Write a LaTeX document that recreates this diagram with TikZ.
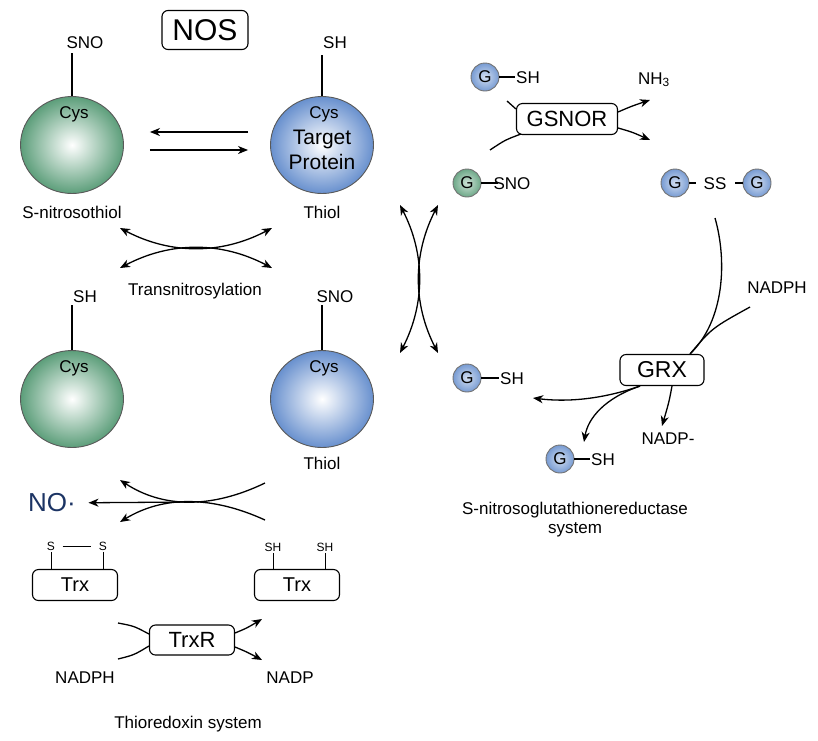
\documentclass[tikz,border=0pt]{standalone}
\usepackage{fontspec}
\setmainfont{Liberation Sans}
\usetikzlibrary{arrows.meta,shapes.geometric}
\definecolor{protgreen}{RGB}{92,158,122}
\definecolor{protblue}{RGB}{104,144,206}
\definecolor{noblue}{RGB}{28,52,100}

\begin{document}
\begin{tikzpicture}[x=1pt, y=-1pt, line width=1.3pt, >={Stealth[length=10pt,width=8pt,inset=3pt]},
    txt/.style={inner sep=1pt, font=\fontsize{17}{20}\selectfont, text height=12.2pt, text depth=0pt},
    tiny/.style={inner sep=1pt, font=\fontsize{12}{14}\selectfont, text height=8.6pt, text depth=0pt},
    protball/.style={ellipse, draw=black!65, line width=0.9pt, minimum width=103pt, minimum height=97pt, inner color=white},
    greenball/.style={protball, outer color=protgreen},
    blueball/.style={protball, outer color=protblue},
    gball/.style={circle, draw=black!55, line width=0.9pt, minimum size=28pt, inner sep=0pt, inner color=protblue!30, outer color=protblue!90, font=\fontsize{17}{20}\selectfont},
    gballgreen/.style={gball, inner color=protgreen!30, outer color=protgreen!90},
    enzyme/.style={draw, rounded corners=6pt, line width=1.1pt, inner sep=0pt}]

    \useasboundingbox (0,0) rectangle (818,740);

    % Define the enzyme box at the top
    \node[enzyme, font=\fontsize{30}{34}\selectfont, minimum width=86pt, minimum height=39pt] (nos) at (205,30) {NOS};

    % Define the protein spheres (left and right column)
    \node[greenball] (snoA) at (72,145) {};
    \node[blueball] (thiolA) at (322,145) {};
    \node[greenball] (shB) at (72,399) {};
    \node[blueball] (thiolB) at (322,399) {};

    % Define the labels on and around the spheres
    \node[txt] (cysA) at (74,112) {Cys};
    \node[txt] (cysB) at (324,112) {Cys};
    \node[txt, font=\fontsize{21}{25}\selectfont, text height=15pt] (target) at (322,137) {Target};
    \node[txt, font=\fontsize{21}{25}\selectfont, text height=15pt] (protein) at (322,162) {Protein};
    \node[txt] (cysC) at (74,366) {Cys};
    \node[txt] (cysD) at (324,366) {Cys};
    \node[txt] (snoTop) at (85,42) {SNO};
    \node[txt] (shTop) at (335,42) {SH};
    \node[txt] (shLow) at (85,296) {SH};
    \node[txt] (snoLow) at (335,296) {SNO};
    \node[txt] (nitroso) at (72,212) {S-nitrosothiol};
    \node[txt] (thiolTxtA) at (322,212) {Thiol};
    \node[txt] (transn) at (195,289) {Transnitrosylation};
    \node[txt] (thiolTxtB) at (322,463) {Thiol};

    % Draw the sticks from the spheres
    \coordinate (stickA) at (72,53);
    \coordinate (stickB) at (322,55);
    \coordinate (stickC) at (72,305);
    \coordinate (stickD) at (322,305);
    \draw (snoA.north) -- (stickA);
    \draw (thiolA.north) -- (stickB);
    \draw (shB.north) -- (stickC);
    \draw (thiolB.north) -- (stickD);

    % Draw the equilibrium arrows
    \draw[->, shorten >=26pt, shorten <=22pt] ([yshift=13pt]thiolA.west) -- ([yshift=13pt]snoA.east);
    \draw[->, shorten >=22pt, shorten <=26pt] ([yshift=-5pt]snoA.east) -- ([yshift=-5pt]thiolA.west);

    % Draw the transnitrosylation arrows
    \coordinate (tnUL) at (120,228);
    \coordinate (tnUR) at (272,228);
    \coordinate (tnLL) at (120,268);
    \coordinate (tnLR) at (272,268);
    \draw[<->] (tnUL) .. controls (170.7,254.7) and (221.3,254.7) .. (tnUR);
    \draw[<->] (tnLL) .. controls (170.7,241.3) and (221.3,241.3) .. (tnLR);

    % Draw the release of NO
    \node[inner sep=1pt, font=\fontsize{26}{30}\selectfont, text=noblue] (nodot) at (52,503) {NO·};
    \coordinate (noRU) at (265,483);
    \coordinate (noRL) at (265,520);
    \coordinate (noLU) at (120,480);
    \coordinate (noLL) at (120,522);
    \coordinate (noMid) at (192,502);
    \draw[->] (noRU) .. controls (211,509) and (162.7,508) .. (noLU);
    \draw[->] (noRL) .. controls (211,495.3) and (162.7,496) .. (noLL);
    \draw[->, shorten >=11pt] (noMid) -- (nodot);

    % Define the thioredoxin system
    \node[enzyme, font=\fontsize{20}{24}\selectfont, minimum width=85pt, minimum height=31pt] (trxL) at (75,585) {Trx};
    \node[enzyme, font=\fontsize{20}{24}\selectfont, minimum width=85pt, minimum height=31pt] (trxR) at (297,585) {Trx};
    \node[tiny] (sL1) at (51,546) {S};
    \node[tiny] (sL2) at (103,546) {S};
    \node[tiny] (shR1) at (273,547) {SH};
    \node[tiny] (shR2) at (325,547) {SH};
    \draw[line width=1pt] (sL1) -- (sL1 |- trxL.north);
    \draw[line width=1pt] (sL2) -- (sL2 |- trxL.north);
    \draw[line width=1pt, shorten <=6pt, shorten >=6pt] (sL1) -- (sL2);
    \draw[line width=1pt] (shR1) -- (shR1 |- trxR.north);
    \draw[line width=1pt] (shR2) -- (shR2 |- trxR.north);

    \node[enzyme, font=\fontsize{22}{26}\selectfont, minimum width=85pt, minimum height=30pt] (trxr) at (192,640) {TrxR};
    \coordinate (trxIn1) at (118,623);
    \coordinate (trxIn2) at (118,659);
    \coordinate (trxOut1) at (262,619);
    \coordinate (trxOut2) at (262,660);
    \draw (trxIn1) .. controls (134,626) .. ([yshift=6pt]trxr.west);
    \draw (trxIn2) .. controls (134,655) .. ([yshift=-6pt]trxr.west);
    \draw[->] ([yshift=7pt]trxr.east) .. controls (247,628) .. (trxOut1);
    \draw[->] ([yshift=-7pt]trxr.east) .. controls (247,652) .. (trxOut2);
    \node[txt] (nadphL) at (85,677) {NADPH};
    \node[txt] (nadpL) at (290,677) {NADP};
    \node[txt] (thioSys) at (188,722) {Thioredoxin system};

    % Draw the crossing arrows to the glutathione cycle
    \coordinate (vcTL) at (400,205);
    \coordinate (vcTR) at (438,205);
    \coordinate (vcBL) at (400,353);
    \coordinate (vcBR) at (438,353);
    \draw[<->] (vcTL) .. controls (425.3,254.3) and (425.3,303.7) .. (vcBL);
    \draw[<->] (vcTR) .. controls (412.7,254.3) and (412.7,303.7) .. (vcBR);

    % Define the GSNOR step (right, top)
    \node[gball] (gshA) at (485,77) {G};
    \node[txt] (shA) at (528,77) {SH};
    \draw (gshA) -- (shA);
    \node[txt] (nh3) at (654,78) {NH\textsubscript{3}};
    \node[enzyme, font=\fontsize{22}{26}\selectfont, minimum width=101pt, minimum height=31pt] (gsnor) at (567,119) {GSNOR};
    \coordinate (gsIn1) at (507,101);
    \coordinate (gsIn2) at (490,150);
    \coordinate (gsOut1) at (650,100);
    \coordinate (gsOut2) at (650,140);
    \draw (gsIn1) -- ([yshift=10pt]gsnor.west);
    \draw (gsIn2) .. controls (505,140) .. ([xshift=5pt,yshift=-15pt]gsnor.west);
    \draw[->] ([yshift=7pt]gsnor.east) .. controls (632,106) .. (gsOut1);
    \draw[->] ([yshift=-9pt]gsnor.east) .. controls (632,132) .. (gsOut2);

    \node[gballgreen] (gsno) at (467,183) {G};
    \node[txt] (snoG) at (512,183) {SNO};
    \draw (gsno) -- ([xshift=6pt]snoG.west);

    \node[gball] (gssL) at (675,183) {G};
    \node[txt] (ssTxt) at (715,183) {SS};
    \node[gball] (gssR) at (757,183) {G};
    \draw[shorten >=6pt] (gssL) -- (ssTxt);
    \draw[shorten <=7pt] (ssTxt) -- (gssR);

    % Define the GRX step (right, bottom)
    \node[enzyme, font=\fontsize{23}{27}\selectfont, minimum width=84pt, minimum height=31pt] (grx) at (662,370) {GRX};
    \coordinate (cycTop) at (715,218);
    \draw (cycTop) .. controls (727,260) and (725,320) .. ([xshift=28pt]grx.north);
    \node[txt] (nadphR) at (777,287) {NADPH};
    \coordinate (nadphIn) at (750,307);
    \draw (nadphIn) .. controls (712,328) .. ([xshift=28pt]grx.north);

    \node[gball] (gshB) at (467,378) {G};
    \node[txt] (shB2) at (512,378) {SH};
    \draw (gshB) -- (shB2);
    \node[gball] (gshC) at (560,459) {G};
    \node[txt] (shC) at (603,459) {SH};
    \draw (gshC) -- (shC);
    \node[txt] (nadpm) at (668,438) {NADP-};

    \coordinate (grxOutL) at (533,398);
    \coordinate (grxOutB) at (584,442);
    \coordinate (nadpmTip) at (662,426);
    \draw[->] ([xshift=-22pt]grx.south) .. controls (600,400) and (565,402) .. (grxOutL);
    \draw[->] ([xshift=-22pt]grx.south) .. controls (605,398) and (588,418) .. (grxOutB);
    \draw[->] ([xshift=10pt]grx.south) .. controls (669,402) .. (nadpmTip);

    \node[txt] (capA) at (575,508) {S-nitrosoglutathionereductase};
    \node[txt] (capB) at (575,527) {system};

\end{tikzpicture}
\end{document}
